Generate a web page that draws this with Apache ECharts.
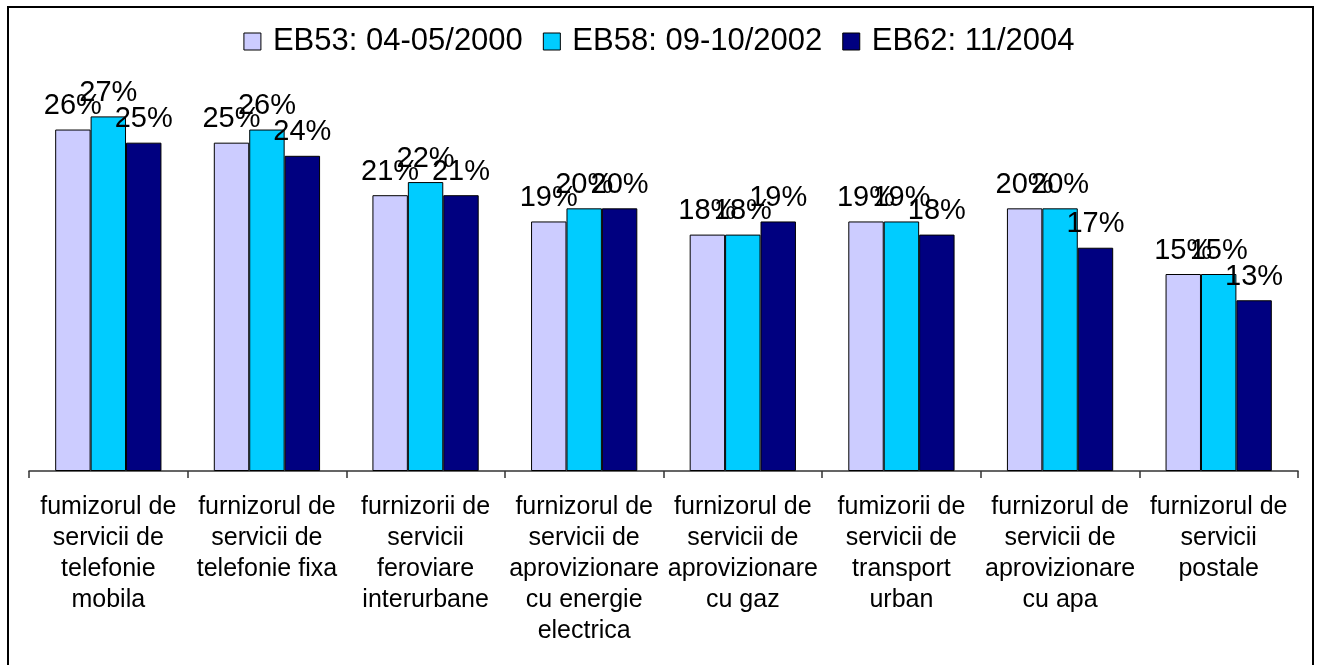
<!DOCTYPE html>
<html>
<head>
<meta charset="utf-8">
<script src="https://cdn.jsdelivr.net/npm/echarts@6/dist/echarts.min.js"></script>
<style>
html,body{margin:0;padding:0;background:#fff;}
#chart{width:1318px;height:665px;}
</style>
</head>
<body>
<div id="chart"></div>
<script>
const categories = [
  "fumizorul de\nservicii de\ntelefonie\nmobila",
  "furnizorul de\nservicii de\ntelefonie fixa",
  "furnizorii de\nservicii\nferoviare\ninterurbane",
  "furnizorul de\nservicii de\naprovizionare\ncu energie\nelectrica",
  "furnizorul de\nservicii de\naprovizionare\ncu gaz",
  "fumizorii de\nservicii de\ntransport\nurban",
  "furnizorul de\nservicii de\naprovizionare\ncu apa",
  "furnizorul de\nservicii\npostale"
];
const seriesNames = ["EB53: 04-05/2000", "EB58: 09-10/2002", "EB62: 11/2004"];
const eb53 = [26, 25, 21, 19, 18, 19, 20, 15];
const eb58 = [27, 26, 22, 20, 18, 19, 20, 15];
const eb62 = [25, 24, 21, 20, 19, 18, 17, 13];
const colors = ["#CCCCFF", "#00CCFF", "#000080"];

const FONT = "'Liberation Sans', Arial, sans-serif";
const chart = echarts.init(document.getElementById('chart'));

function mk(name, data, color) {
  return {
    name: name,
    type: 'bar',
    data: data,
    barGap: '0%',
    barCategoryGap: '33%',
    itemStyle: { color: color, borderColor: '#000', borderWidth: 1 },
    label: {
      show: true,
      position: 'top',
      distance: 9,
      formatter: '{c}%',
      fontFamily: FONT,
      fontSize: 29,
      color: '#000'
    }
  };
}

chart.setOption({
  animation: false,
  backgroundColor: '#fff',
  graphic: [{
    type: 'rect',
    shape: { x: 8, y: 7, width: 1305, height: 700 },
    style: { fill: 'none', stroke: '#000', lineWidth: 2 },
    silent: true,
    z: 100
  }],
  legend: {
    top: 21,
    left: 'center',
    itemWidth: 17,
    itemHeight: 17,
    itemGap: 20,
    icon: 'rect',
    itemStyle: { borderColor: '#000', borderWidth: 1 },
    textStyle: { fontFamily: FONT, fontSize: 31, color: '#000', padding: [0, 0, 0, 7] },
    data: seriesNames
  },
  grid: { left: 29, right: 20, top: 77, bottom: 194, containLabel: false },
  xAxis: {
    type: 'category',
    data: categories,
    axisLine: { lineStyle: { color: '#333', width: 1.5 } },
    axisTick: { show: true, length: 7, lineStyle: { color: '#333', width: 1.5 } },
    axisLabel: {
      interval: 0,
      margin: 21,
      fontFamily: FONT,
      fontSize: 25,
      lineHeight: 31,
      color: '#000',
      align: 'center'
    }
  },
  yAxis: {
    type: 'value',
    min: 0,
    max: 30,
    interval: 5,
    show: false
  },
  series: [
    mk(seriesNames[0], eb53, colors[0]),
    mk(seriesNames[1], eb58, colors[1]),
    mk(seriesNames[2], eb62, colors[2])
  ]
});
</script>
</body>
</html>
